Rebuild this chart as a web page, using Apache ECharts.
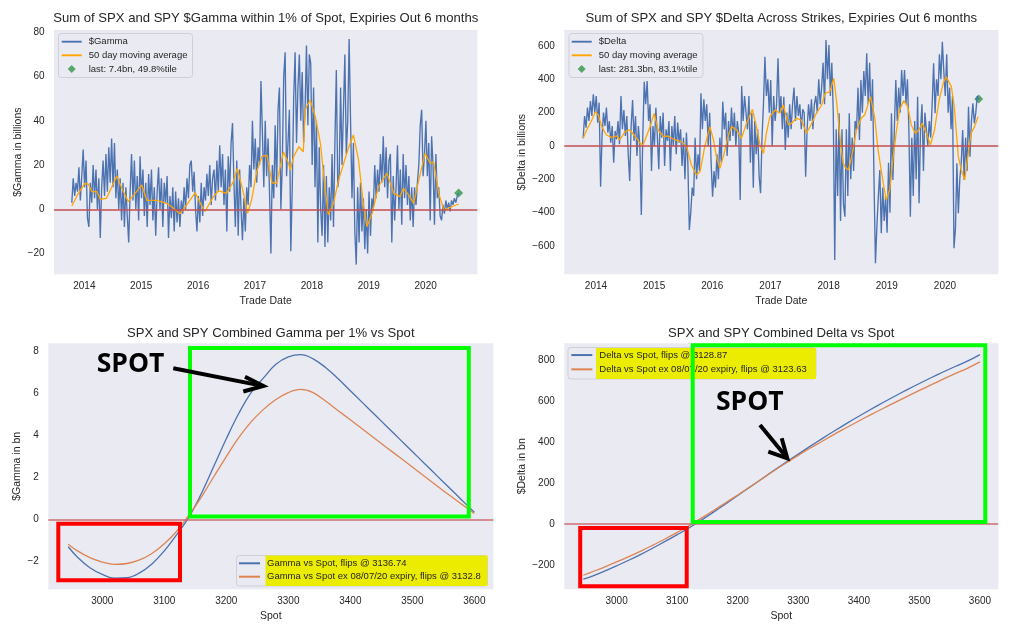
<!DOCTYPE html>
<html><head><meta charset="utf-8">
<script src="https://cdn.jsdelivr.net/npm/echarts@6/dist/echarts.min.js"></script>
<style>html,body{margin:0;padding:0;background:#fff}#c{width:1013px;height:626px}</style>
</head><body><div id="c"></div>
<script>
// ---------- DATA ----------
const seriesStartYear = 2013.78;
const seriesStepYears = 1 / 40;
const gammaValues = [
 3,14,6,12, 8,19,4,15, 27,10,22,-4, -8,12,3,20, 5,18,0,14, -13,10,22,6, 25,8,28,12, 32,10,30,5,
 18,0,14,-5, 12,-8,10,-3, -15,8,25,4, 22,0,15,-5, 24,5,18,-3, 12,-8,16,2, 18,-5,10,-12, 8,19,0,14,
 -8,12,3,15, -13,6,-4,10, -10,8,-6,5, -8,4,-2,10, 0,14,5,20, 22,8,17,0, -10,6,-6,12, -3,10,4,16,
 6,20,2,14, 18,4,22,8, 29,10,25,2, 18,-10,24,8, 30,39,12,-8, 22,-12,18,0, -14,5,-10,10, 2,20,10,40,
 18,32,12,28, 20,58,35,10, 40,15,32,8, -20,20,5,38, 10,45,55,0, 20,60,71,15, 30,45,-19,10, 50,71,30,55,
 70,40,62,30, 45,74,38,70, 66,20,55,10, 40,-15,28,0, -12,20,-17,15, -15,10,-5,25, -8,30,63,10, 15,55,20,45,
 70,25,40,77, 40,5,30,-10, -25,10,-15,12, -10,5,-18,0, -20,8,-12,5, 0,20,5,18, 8,25,12,33, 10,28,5,22,
 25,-15,15,-5, 10,29,0,18, -7,25,5,20, 2,15,-5,10, -8,10,2,12, 20,38,45,15, 25,40,15,30, -5,33,20,-7,
 25,5,10,-3, -5,2,-2,4, 0,3,-1,4, 2,5,3,6, 7.4
];
const deltaValues = [
 46,180,110,230, 150,270,180,310, 200,300,140,260, -244,60,200,120, 230,80,150,20, 120,-100,90,40, 150,10,300,100, 216,60,180,-50,
 -210,120,276,30, 180,-60,120,0, -414,50,386,250, 390,150,250,-150, 120,0,230,60, -140,180,50,200, -120,100,30,150, -150,120,0,180,
 -50,140,20,100, -120,50,-200,80, -100,-504,-400,-250, -300,50,-200,-50, -150,316,100,280, 150,250,0,200, -100,-304,-150,-250, -50,-200,50,-100,
 266,100,200,-60, 150,30,230,60, 200,0,150,80, -324,360,150,300, 200,100,300,-100, 200,-250,150,-50, 100,-180,-284,50, 250,536,300,400,
 200,396,0,300, 150,250,526,200, 300,100,296,-24, 200,50,250,100, 250,350,150,300, 180,250,100,220, 200,-184,100,250, 150,280,100,250,
 300,200,400,250, 350,500,250,636, 400,606,300,500, 200,-684,100,-300, 196,-450,100,-350, -424,100,-300,196, -200,50,-150,150, 100,350,36,396,
 200,450,300,556, 250,500,150,400, -200,-704,-480,-300, -144,-524,-250,-450, -300,-520,-100,-400, 196,-204,100,396, 150,350,200,456, 300,456,250,400,
 96,-424,50,-300, 150,-200,296,-344, 100,250,-150,200, 196,0,150,50, 250,496,196,400, 300,550,400,626, 450,300,550,200, 350,100,300,-614,
 -500,-104,-404,-200, -100,96,-204,50, -150,236,-64,150, 256,136,200,300, 281.3
];
const gammaMAYears = [2013.78,2013.89,2014.01,2014.07,2014.13,2014.22,2014.28,2014.39,2014.48,2014.57,
 2014.66,2014.77,2014.92,2015.01,2015.10,2015.27,2015.45,2015.57,2015.68,2015.80,
 2015.95,2016.04,2016.12,2016.27,2016.36,2016.50,2016.62,2016.69,2016.80,2016.87,
 2016.94,2017.03,2017.12,2017.21,2017.30,2017.38,2017.50,2017.59,2017.62,2017.68,
 2017.77,2017.85,2017.88,2017.97,2018.06,2018.15,2018.23,2018.29,2018.38,2018.47,
 2018.56,2018.65,2018.73,2018.82,2018.91,2018.97,2019.06,2019.17,2019.32,2019.44,
 2019.55,2019.61,2019.70,2019.79,2019.88,2019.99,2020.08,2020.14,2020.23,2020.32,
 2020.40,2020.49,2020.58];
const gammaMAValues = [1.5,7,11.7,11.4,8,8,4.5,5,10,15,
 9.5,3.5,8,11,4,4,2.7,0.5,-2,2,
 7.5,2.7,-1,5.7,8.4,7.2,12.5,18.5,7.2,-1.8,
 4.2,17,23.8,24.5,12,11.7,26,20.8,17.7,23.8,
 28.3,26,44.9,49.4,41.9,29.8,10.2,-2.6,2.7,13.3,
 20.8,28.3,33.6,22.3,1.2,-7.8,-1.8,10.2,16.3,7.2,
 5.7,9.5,6.5,2.7,13.3,25.3,20.8,21.5,7.2,-0.3,
 0.5,1.5,2.4];
const deltaMAYears = [2013.78,2013.84,2013.93,2013.99,2014.04,2014.10,2014.18,2014.27,2014.36,2014.41,
 2014.50,2014.58,2014.67,2014.76,2014.81,2014.93,2015.00,2015.07,2015.16,2015.24,
 2015.36,2015.47,2015.56,2015.64,2015.73,2015.79,2015.87,2015.96,2016.02,2016.07,
 2016.13,2016.19,2016.27,2016.33,2016.42,2016.50,2016.59,2016.69,2016.76,2016.82,
 2016.88,2016.93,2016.99,2017.08,2017.16,2017.22,2017.31,2017.36,2017.45,2017.53,
 2017.62,2017.71,2017.79,2017.88,2017.94,2018.02,2018.09,2018.14,2018.20,2018.25,
 2018.29,2018.34,2018.39,2018.48,2018.56,2018.62,2018.72,2018.79,2018.85,2018.94,
 2018.99,2019.05,2019.11,2019.16,2019.22,2019.29,2019.36,2019.42,2019.49,2019.55,
 2019.61,2019.68,2019.75,2019.82,2019.90,2019.97,2020.02,2020.11,2020.16,2020.23,
 2020.28,2020.34,2020.40,2020.45,2020.51,2020.57];
const deltaMAValues = [46,96,156,206,186,116,66,52,60,36,
 86,96,60,16,6,116,196,96,56,60,
 36,26,-4,-114,-174,-154,-4,116,36,-64,
 -134,-64,56,116,96,46,136,220,116,6,
 -44,76,176,216,196,246,126,136,166,156,
 76,136,196,246,316,326,406,256,36,-104,
 -130,-144,-74,96,166,186,296,176,-24,-224,
 -324,-264,-64,76,216,272,236,126,76,96,
 136,76,6,96,276,376,416,356,236,-64,
 -144,-204,-44,76,116,176];
const gammaLast = 7.4, deltaLast = 281.3;
const yearTicks = [2014, 2015, 2016, 2017, 2018, 2019, 2020];
const gammaTicks = [-20, 0, 20, 40, 60, 80];
const deltaTicks = [-600, -400, -200, 0, 200, 400, 600];

const spotLevels = [2945,2960,2980,3000,3020,3040,3060,3080,3100,3120,3140,3160,3180,3200,3220,3240,3260,3280,3300,3320,
 3340,3360,3380,3400,3420,3440,3460,3480,3500,3520,3540,3560,3580,3600];
const gammaVsSpot = [-1.30,-1.80,-2.30,-2.62,-2.80,-2.78,-2.55,-2.12,-1.50,-0.72,0.12,1.25,2.55,3.85,5.05,6.05,6.75,7.40,7.75,7.86,
 7.66,7.25,6.72,6.14,5.56,4.98,4.40,3.82,3.24,2.66,2.08,1.50,0.92,0.34];
const gammaVsSpotEx = [-1.18,-1.50,-1.82,-2.03,-2.14,-2.10,-1.93,-1.62,-1.16,-0.56,0.22,1.08,2.05,3.00,3.90,4.65,5.25,5.72,6.05,6.20,
 6.05,5.65,5.20,4.75,4.30,3.85,3.40,2.95,2.50,2.05,1.60,1.15,0.72,0.28];
const deltaVsSpot = [-268,-253,-229,-203,-176,-147,-116,-84,-51,-17,20,59,99,140,181,222,263,303,342,381,
 419,456,492,527,561,594,626,657,687,716,744,771,797,828];
const deltaVsSpotEx = [-249,-232,-209,-184,-158,-131,-102,-72,-40,-7,30,67,105,143,182,221,261,299,336,372,
 406,440,472,504,535,565,595,624,653,681,709,736,762,792];
const spotTicks = [3000, 3100, 3200, 3300, 3400, 3500, 3600];
const gammaSpotTicks = [-2, 0, 2, 4, 6, 8];
const deltaSpotTicks = [-200, 0, 200, 400, 600, 800];

// ---------- CHART ----------
const FONT = "'Liberation Sans', Arial, sans-serif";
const TXT = '#262626';
const BLUE = '#4C72B0', ORANGE = '#FFA500', ORANGE2 = '#DD8452', GREEN = '#55A868';
const LINE_ICON = 'path://M0,0 L40,0 L40,3.8 L0,3.8 Z';
const DIAMOND_ICON = 'path://M5,0 L10,5 L5,10 L0,5 Z';
const seriesYears = gammaValues.map((_, i) => seriesStartYear + i * seriesStepYears);
const lastYear = seriesYears[seriesYears.length - 1];
const fmt = v => (v < 0 ? '\u2212' + Math.abs(v) : String(v));

function xAx(grid, min, max, ticks, name) {
  return {type: 'value', gridIndex: grid, min, max, name, nameLocation: 'middle', nameGap: 21,
    nameTextStyle: {fontSize: 10.5, color: TXT, fontFamily: FONT},
    axisLine: {show: false}, axisTick: {show: false}, splitLine: {show: false},
    axisLabel: {customValues: ticks, formatter: fmt, margin: 7, fontSize: 10, color: TXT, fontFamily: FONT}};
}
function yAx(grid, min, max, ticks, name, gap) {
  return {type: 'value', gridIndex: grid, min, max, name, nameLocation: 'middle', nameGap: gap,
    nameTextStyle: {fontSize: 10.5, color: TXT, fontFamily: FONT},
    axisLine: {show: false}, axisTick: {show: false}, splitLine: {show: false},
    axisLabel: {customValues: ticks, formatter: fmt, margin: 9.5, fontSize: 10, color: TXT, fontFamily: FONT}};
}
function zeroLine(color) {
  return {silent: true, symbol: 'none', label: {show: false}, animation: false,
    lineStyle: {color, width: 1.5, type: 'solid'}, data: [{yAxis: 0}]};
}
function legendCfg(items, left, top, lh, iw) {
  return {data: items, orient: 'vertical', left, top, padding: 0, itemGap: 0, itemWidth: iw, itemHeight: 8,
    symbolKeepAspect: true, selectedMode: false,
    textStyle: {fontSize: 9.5, lineHeight: lh, color: TXT, fontFamily: FONT, padding: [0, 0, 0, 2]}};
}
function titleCfg(text, cx, top) {
  return {text, left: cx, top, textAlign: 'center', padding: 0,
    textStyle: {fontSize: 13.1, fontWeight: 'normal', color: TXT, fontFamily: FONT}};
}
const gridBase = {show: true, backgroundColor: '#EAEAF2', borderWidth: 0, containLabel: false};
const frameStyle = {fill: 'rgba(234,234,242,0.85)', stroke: '#cfcfd8', lineWidth: 1};
const boxStyle = c => ({fill: 'none', stroke: c, lineWidth: 4});
const arrowStyle = {fill: 'none', stroke: '#000', lineWidth: 4, lineJoin: 'miter'};
const spotFont = 'bold 26.5px "Open Sans", "DejaVu Sans", sans-serif';

const option = {
  animation: false,
  textStyle: {fontFamily: FONT},
  title: [
    titleCfg('Sum of SPX and SPY $Gamma within 1% of Spot, Expiries Out 6 months', 265.7, 12),
    titleCfg('Sum of SPX and SPY $Delta Across Strikes, Expiries Out 6 months', 781.3, 12),
    titleCfg('SPX and SPY Combined Gamma per 1% vs Spot', 270.8, 327),
    titleCfg('SPX and SPY Combined Delta vs Spot', 781.3, 327)
  ],
  grid: [
    Object.assign({left: 54, top: 30, width: 423.3, height: 244.3}, gridBase),
    Object.assign({left: 564.3, top: 30, width: 434, height: 244.3}, gridBase),
    Object.assign({left: 48.3, top: 343.3, width: 445, height: 246}, gridBase),
    Object.assign({left: 564.3, top: 343.3, width: 434, height: 246}, gridBase)
  ],
  xAxis: [
    xAx(0, 2013.467, 2020.908, yearTicks, 'Trade Date'),
    xAx(1, 2013.456, 2020.917, yearTicks, 'Trade Date'),
    xAx(2, 2912.9, 3630.6, spotTicks, 'Spot'),
    xAx(3, 2913.6, 3630.3, spotTicks, 'Spot')
  ],
  yAxis: [
    yAx(0, -29.38, 81.05, gammaTicks, '$Gamma in billions', 30.7),
    yAx(1, -770, 696, deltaTicks, '$Delta in billions', 36.6),
    yAx(2, -3.33, 8.40, gammaSpotTicks, '$Gamma in bn', 25.6),
    yAx(3, -317.6, 883, deltaSpotTicks, '$Delta in bn', 36.6)
  ],
  legend: [
    legendCfg([{name: '$Gamma', icon: LINE_ICON}, {name: '50 day moving average', icon: LINE_ICON},
      {name: 'last: 7.4bn, 49.8%tile', icon: DIAMOND_ICON}], 61.7, 34.9, 13.6, 20),
    legendCfg([{name: '$Delta', icon: LINE_ICON}, {name: '50 day moving average', icon: LINE_ICON},
      {name: 'last: 281.3bn, 83.1%tile', icon: DIAMOND_ICON}], 571.7, 34.9, 13.6, 20),
    legendCfg([{name: 'Gamma vs Spot, flips @ 3136.74', icon: LINE_ICON},
      {name: 'Gamma vs Spot ex 08/07/20 expiry, flips @ 3132.8', icon: LINE_ICON}], 239, 556.6, 13.4, 21),
    legendCfg([{name: 'Delta vs Spot, flips @ 3128.87', icon: LINE_ICON},
      {name: 'Delta vs Spot ex 08/07/20 expiry, flips @ 3123.63', icon: LINE_ICON}], 571.3, 347.9, 14.3, 21)
  ],
  series: [
    {name: '$Gamma', type: 'line', xAxisIndex: 0, yAxisIndex: 0, symbol: 'none', lineStyle: {color: BLUE, width: 1.35}, itemStyle: {color: BLUE},
      data: seriesYears.map((y, i) => [y, gammaValues[i]])},
    {name: '50 day moving average', type: 'line', xAxisIndex: 0, yAxisIndex: 0, symbol: 'none', lineStyle: {color: ORANGE, width: 1.3}, itemStyle: {color: ORANGE},
      data: gammaMAYears.map((y, i) => [y, gammaMAValues[i]]), markLine: zeroLine('#C44E52')},
    {name: 'last: 7.4bn, 49.8%tile', type: 'scatter', xAxisIndex: 0, yAxisIndex: 0, symbol: 'diamond', symbolSize: 9, itemStyle: {color: GREEN, opacity: 1},
      data: [[lastYear, gammaLast]]},
    {name: '$Delta', type: 'line', xAxisIndex: 1, yAxisIndex: 1, symbol: 'none', lineStyle: {color: BLUE, width: 1.35}, itemStyle: {color: BLUE},
      data: seriesYears.map((y, i) => [y, deltaValues[i]])},
    {name: '50 day moving average', type: 'line', xAxisIndex: 1, yAxisIndex: 1, symbol: 'none', lineStyle: {color: ORANGE, width: 1.3}, itemStyle: {color: ORANGE},
      data: deltaMAYears.map((y, i) => [y, deltaMAValues[i]]), markLine: zeroLine('#C44E52')},
    {name: 'last: 281.3bn, 83.1%tile', type: 'scatter', xAxisIndex: 1, yAxisIndex: 1, symbol: 'diamond', symbolSize: 9, itemStyle: {color: GREEN, opacity: 1},
      data: [[lastYear, deltaLast]]},
    {name: 'Gamma vs Spot, flips @ 3136.74', type: 'line', xAxisIndex: 2, yAxisIndex: 2, symbol: 'none', smooth: 0.4, lineStyle: {color: BLUE, width: 1.3}, itemStyle: {color: BLUE},
      data: spotLevels.map((s, i) => [s, gammaVsSpot[i]]), markLine: zeroLine('#CC6F73')},
    {name: 'Gamma vs Spot ex 08/07/20 expiry, flips @ 3132.8', type: 'line', xAxisIndex: 2, yAxisIndex: 2, symbol: 'none', smooth: 0.4, lineStyle: {color: ORANGE2, width: 1.3}, itemStyle: {color: ORANGE2},
      data: spotLevels.map((s, i) => [s, gammaVsSpotEx[i]])},
    {name: 'Delta vs Spot, flips @ 3128.87', type: 'line', xAxisIndex: 3, yAxisIndex: 3, symbol: 'none', smooth: 0.4, lineStyle: {color: BLUE, width: 1.3}, itemStyle: {color: BLUE},
      data: spotLevels.map((s, i) => [s, deltaVsSpot[i]]), markLine: zeroLine('#CC6F73')},
    {name: 'Delta vs Spot ex 08/07/20 expiry, flips @ 3123.63', type: 'line', xAxisIndex: 3, yAxisIndex: 3, symbol: 'none', smooth: 0.4, lineStyle: {color: ORANGE2, width: 1.3}, itemStyle: {color: ORANGE2},
      data: spotLevels.map((s, i) => [s, deltaVsSpotEx[i]])}
  ],
  graphic: {elements: [
    {type: 'rect', z: 3, shape: {x: 58.5, y: 33.5, width: 134, height: 44, r: 3}, style: frameStyle},
    {type: 'rect', z: 3, shape: {x: 569, y: 33.5, width: 134, height: 44, r: 3}, style: frameStyle},
    {type: 'rect', z: 3, shape: {x: 236.5, y: 555.5, width: 251, height: 30.5, r: 3}, style: frameStyle},
    {type: 'rect', z: 3, shape: {x: 265.5, y: 555.5, width: 222, height: 30.5}, style: {fill: '#ECEC00'}},
    {type: 'rect', z: 3, shape: {x: 568, y: 347.5, width: 248, height: 31.5, r: 3}, style: frameStyle},
    {type: 'rect', z: 3, shape: {x: 596, y: 348, width: 220, height: 31}, style: {fill: '#ECEC00'}},
    {type: 'rect', z: 20, shape: {x: 190, y: 348, width: 278.8, height: 168.5}, style: boxStyle('#00FF00')},
    {type: 'rect', z: 20, shape: {x: 58.3, y: 523.7, width: 121.7, height: 56.6}, style: boxStyle('#FF0000')},
    {type: 'rect', z: 20, shape: {x: 692.7, y: 345.3, width: 292.6, height: 176.7}, style: boxStyle('#00FF00')},
    {type: 'rect', z: 20, shape: {x: 580.2, y: 528, width: 106.5, height: 58.2}, style: boxStyle('#FF0000')},
    {type: 'text', z: 20, style: {text: 'SPOT', x: 96.7, y: 364.5, verticalAlign: 'middle', font: spotFont, fill: '#000'}},
    {type: 'text', z: 20, style: {text: 'SPOT', x: 716, y: 402.2, verticalAlign: 'middle', font: spotFont, fill: '#000'}},
    {type: 'polyline', z: 20, shape: {points: [[173.3, 368.3], [260, 385.4]]}, style: arrowStyle},
    {type: 'polyline', z: 20, shape: {points: [[245, 376.7], [263.3, 386], [243.3, 391.5]]}, style: arrowStyle},
    {type: 'polyline', z: 20, shape: {points: [[760, 425], [785.5, 456]]}, style: arrowStyle},
    {type: 'polyline', z: 20, shape: {points: [[768.3, 451.7], [787.3, 458.3], [781.7, 438.3]]}, style: arrowStyle}
  ]}
};
const chart = echarts.init(document.getElementById('c'), null, {renderer: 'canvas'});
chart.setOption(option);
</script></body></html>
